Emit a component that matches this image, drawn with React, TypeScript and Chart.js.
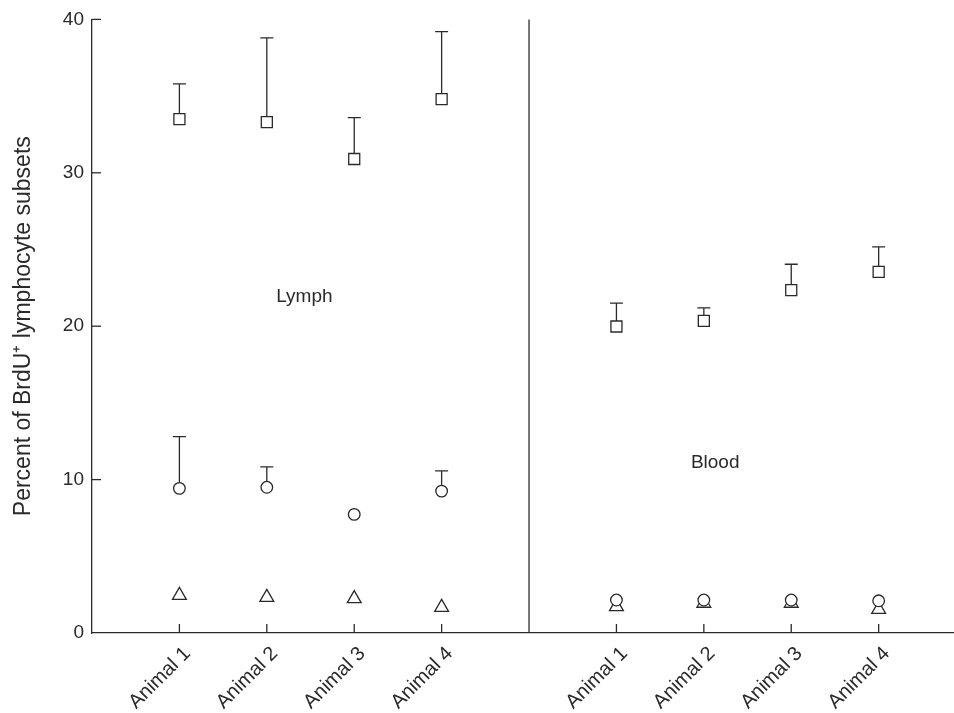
import { useEffect, useRef } from "react";
import { Chart, registerables } from "chart.js";

Chart.register(...registerables);

const categories = ["Animal 1", "Animal 2", "Animal 3", "Animal 4"];
const lymphX = [1, 2, 3, 4];
const bloodX = [6, 7, 8, 9];
const dividerX = 5;

const lymphSquare = [33.5, 33.3, 30.9, 34.8];
const lymphSquareUpper = [35.8, 38.8, 33.6, 39.2];
const lymphCircle = [9.43, 9.5, 7.73, 9.25];
const lymphCircleUpper: (number | null)[] = [12.8, 10.83, null, 10.57];
const lymphTriangle = [2.45, 2.32, 2.24, 1.67];

const bloodSquare = [19.98, 20.35, 22.35, 23.54];
const bloodSquareUpper = [21.5, 21.2, 24.04, 25.17];
const bloodCircle = [2.15, 2.15, 2.15, 2.1];
const bloodTriangle = [1.72, 1.94, 1.94, 1.54];

const yTicks = [0, 10, 20, 30, 40];
const xTickValues = [...lymphX, ...bloodX];
const xTickLabels = [...categories, ...categories];

const groupLabels = ["Lymph", "Blood"];
const groupLabelPos = [
  [2.43, 21.9],
  [7.13, 11.1],
];

const INK = "#2a2a2a";
const FONT = "'Liberation Sans', Arial, Helvetica, sans-serif";
const FS = 19;

function pts(xs: number[], ys: number[]) {
  return xs.map((x, i) => ({ x, y: ys[i] }));
}

const errorBars = [
  { xs: lymphX, ys: lymphSquare, up: lymphSquareUpper },
  { xs: lymphX, ys: lymphCircle, up: lymphCircleUpper },
  { xs: bloodX, ys: bloodSquare, up: bloodSquareUpper },
];

const decorPlugin = {
  id: "decor",
  beforeDatasetsDraw(chart: any) {
    const { ctx, scales } = chart;
    const xs = scales.x;
    const ys = scales.y;
    ctx.save();
    ctx.strokeStyle = INK;
    ctx.lineWidth = 1.3;
    errorBars.forEach((eb) => {
      eb.xs.forEach((x, i) => {
        const u = eb.up[i];
        if (u == null) return;
        const px = xs.getPixelForValue(x);
        const py = ys.getPixelForValue(eb.ys[i]);
        const pu = ys.getPixelForValue(u);
        ctx.beginPath();
        ctx.moveTo(px, py);
        ctx.lineTo(px, pu);
        ctx.moveTo(px - 6.5, pu);
        ctx.lineTo(px + 6.5, pu);
        ctx.stroke();
      });
    });
    ctx.restore();
  },
  afterDraw(chart: any) {
    const { ctx, scales, chartArea } = chart;
    const xs = scales.x;
    const ys = scales.y;
    ctx.save();
    ctx.strokeStyle = INK;
    ctx.lineWidth = 1.3;
    xTickValues.forEach((v) => {
      const px = xs.getPixelForValue(v);
      ctx.beginPath();
      ctx.moveTo(px, chartArea.bottom);
      ctx.lineTo(px, chartArea.bottom - 9);
      ctx.stroke();
    });
    yTicks.forEach((v) => {
      if (v === 0) return;
      const py = ys.getPixelForValue(v);
      ctx.beginPath();
      ctx.moveTo(chartArea.left, py);
      ctx.lineTo(chartArea.left + 9, py);
      ctx.stroke();
    });
    const dx = xs.getPixelForValue(dividerX);
    ctx.beginPath();
    ctx.moveTo(dx, chartArea.top);
    ctx.lineTo(dx, chartArea.bottom);
    ctx.stroke();
    ctx.fillStyle = INK;
    ctx.font = `${FS}px ${FONT}`;
    ctx.textAlign = "center";
    ctx.textBaseline = "middle";
    groupLabels.forEach((t, i) => {
      ctx.fillText(
        t,
        xs.getPixelForValue(groupLabelPos[i][0]),
        ys.getPixelForValue(groupLabelPos[i][1])
      );
    });
    ctx.restore();
  },
};

export default function App() {
  const ref = useRef<HTMLCanvasElement | null>(null);
  useEffect(() => {
    if (!ref.current) return;
    const common = {
      showLine: false,
      backgroundColor: "#ffffff",
      borderColor: INK,
      borderWidth: 1.3,
      pointBorderWidth: 1.3,
    };
    const chart = new Chart(ref.current, {
      type: "scatter",
      data: {
        datasets: [
          { ...common, label: "Lymph square", data: pts(lymphX, lymphSquare), pointStyle: "rect", pointRadius: 7.8, order: 0 },
          { ...common, label: "Lymph circle", data: pts(lymphX, lymphCircle), pointStyle: "circle", pointRadius: 5.8, order: 1 },
          { ...common, label: "Lymph triangle", data: pts(lymphX, lymphTriangle), pointStyle: "triangle", pointRadius: 8, order: 2 },
          { ...common, label: "Blood square", data: pts(bloodX, bloodSquare), pointStyle: "rect", pointRadius: 7.8, order: 0 },
          { ...common, label: "Blood circle", data: pts(bloodX, bloodCircle), pointStyle: "circle", pointRadius: 5.8, order: 1 },
          { ...common, label: "Blood triangle", data: pts(bloodX, bloodTriangle), pointStyle: "triangle", pointRadius: 8, order: 2 },
        ] as any,
      },
      options: {
        animation: false,
        responsive: false,
        maintainAspectRatio: false,
        events: [],
        layout: { padding: { top: 19, right: 0, left: 0, bottom: 0 } },
        plugins: { legend: { display: false }, tooltip: { enabled: false } },
        scales: {
          x: {
            type: "linear",
            min: 0,
            max: 9.87,
            afterFit: (s: any) => {
              s.height = 80;
            },
            afterBuildTicks: (s: any) => {
              s.ticks = xTickValues.map((v) => ({ value: v }));
            },
            grid: { display: true, drawOnChartArea: false, drawTicks: false },
            border: { display: true, color: INK, width: 1.3 },
            ticks: {
              autoSkip: false,
              minRotation: 45,
              maxRotation: 45,
              padding: 9,
              labelOffset: 8,
              color: INK,
              font: { family: FONT, size: 20 },
              callback: (_v: any, i: number) => xTickLabels[i],
            },
          },
          y: {
            type: "linear",
            min: 0,
            max: 40,
            afterFit: (s: any) => {
              s.width = 92;
            },
            afterBuildTicks: (s: any) => {
              s.ticks = yTicks.map((v) => ({ value: v }));
            },
            grid: { display: true, drawOnChartArea: false, drawTicks: false },
            border: { display: true, color: INK, width: 1.3 },
            ticks: {
              padding: 8,
              color: INK,
              font: { family: FONT, size: FS },
              callback: (v: any) => String(v),
            },
            title: {
              display: true,
              text: "Percent of BrdU\u207A lymphocyte subsets",
              color: INK,
              font: { family: FONT, size: 23 },
              padding: { top: 9.5, bottom: 0 },
            },
          },
        },
      },
      plugins: [decorPlugin],
    });
    return () => chart.destroy();
  }, []);
  return (
    <div style={{ position: "fixed", left: 0, top: 0, width: 954, height: 713, overflow: "hidden", background: "#fff" }}>
      <canvas ref={ref} width={964} height={713} style={{ width: 964, height: 713, display: "block" }} />
    </div>
  );
}
